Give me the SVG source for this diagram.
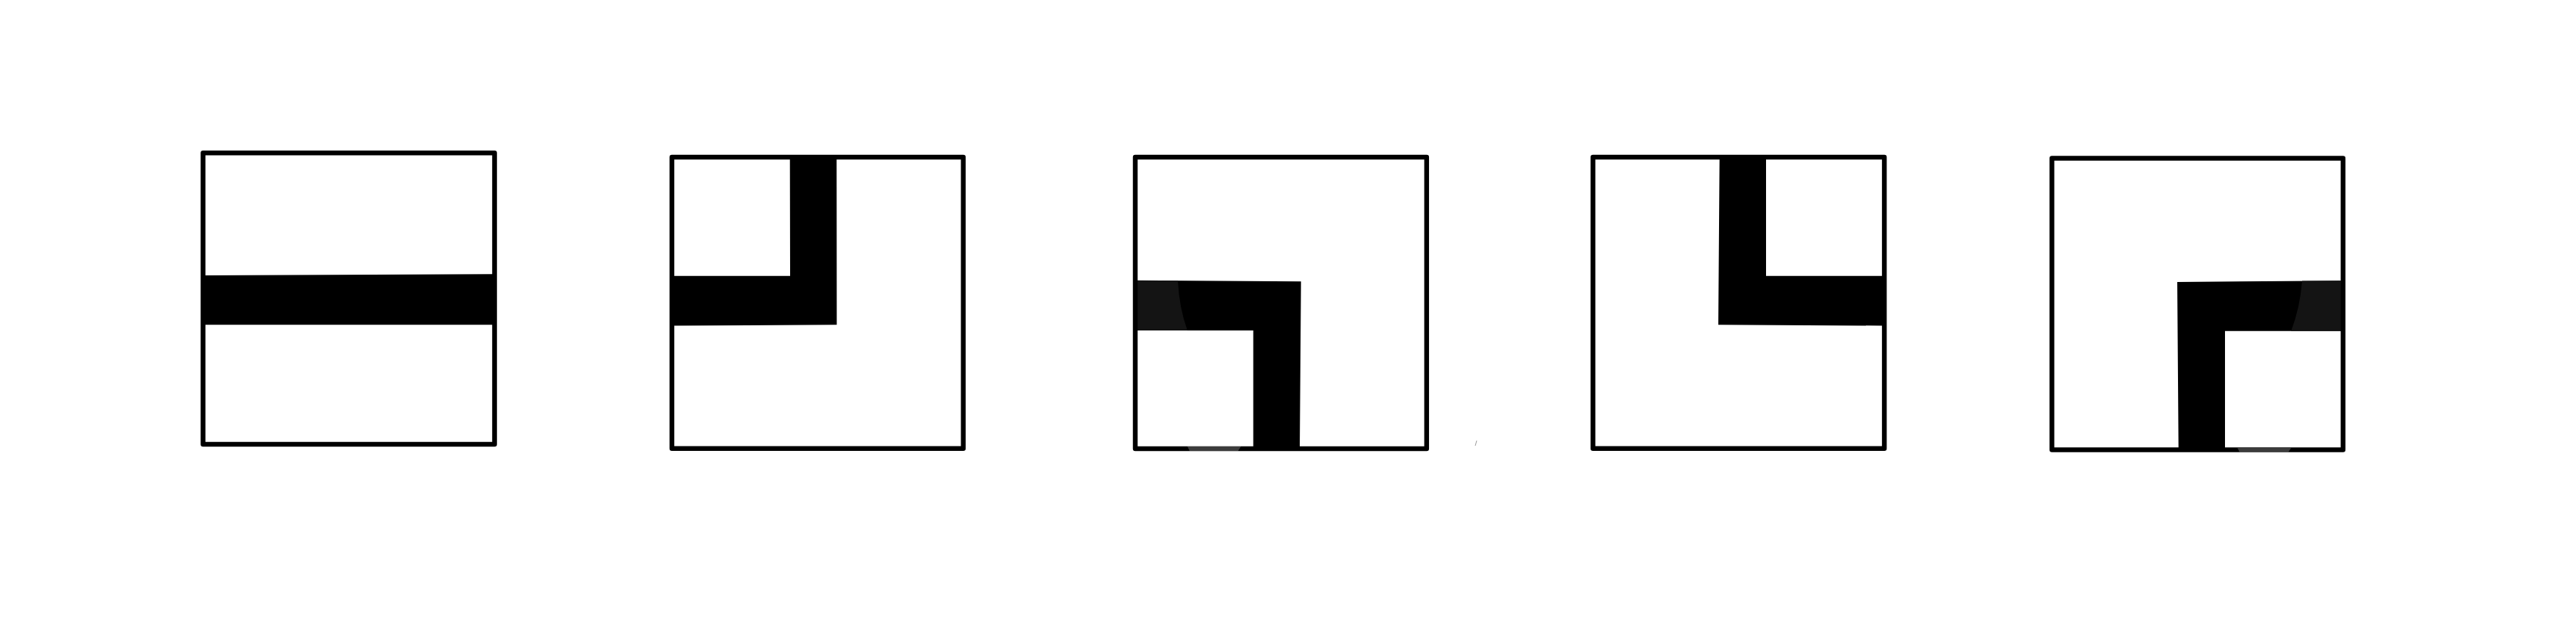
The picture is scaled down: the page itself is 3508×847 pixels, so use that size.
<svg xmlns="http://www.w3.org/2000/svg" width="3508" height="847" viewBox="0 0 3508 847">
  <style>
    .frame { fill: none; stroke: #000; stroke-width: 6.5; stroke-linejoin: round; }
    .bar { fill: #000; stroke: none; }
    .sheen { fill: #141414; stroke: none; }
    .glint { fill: #555; stroke: none; opacity: 0.7; }
  </style>
  <rect x="0" y="0" width="3508" height="847" fill="#fff"/>

  <g id="node1">
    <polygon class="bar" points="276,375 672,373.3 672,442.3 276,442.3"/>
    <rect class="frame" x="276.5" y="208.3" width="397" height="396.8"/>
  </g>

  <g id="node2">
    <polygon class="bar" points="1075.7,212 1139.3,212 1139.5,442.3 914,443.5 914,375.7 1076,375.7"/>
    <rect class="frame" x="915" y="214" width="396.8" height="396.8"/>
  </g>

  <g id="node3">
    <polygon class="bar" points="1543,381.7 1771.7,383.3 1770,611 1706.7,611 1706.7,450 1543,450"/>
    <path class="sheen" d="M1546,382 L1604,382.3 Q1606,420 1617,450 L1546,450 Z"/>
    <rect class="frame" x="1546" y="214" width="396.8" height="397"/>
    <path class="glint" d="M1617,608 L1690,608 L1686,614 L1620,614 Z"/>
  </g>

  <g id="node4">
    <polygon class="bar" points="2341.7,212 2405,212 2405,375.7 2564,375.7 2564,443.5 2340,442.3"/>
    <rect class="frame" x="2169.3" y="214" width="396.8" height="396.8"/>
  </g>

  <g id="node5">
    <polygon class="bar" points="2965,384 3190,382.3 3190,450.7 3030,450.7 3030,611 2966.7,611"/>
    <path class="sheen" d="M3135,382.5 L3190,382.3 L3190,450.7 L3120,450.7 Q3132,420 3135,382.5 Z"/>
    <rect class="frame" x="2794.3" y="215.6" width="396.5" height="396.8"/>
    <path class="glint" d="M3047,610 L3120,610 L3116,616 L3050,616 Z"/>
  </g>

  <g id="connectors">
    <line x1="2011" y1="600" x2="2009" y2="607" stroke="#999" stroke-width="1"/>
  </g>
</svg>
